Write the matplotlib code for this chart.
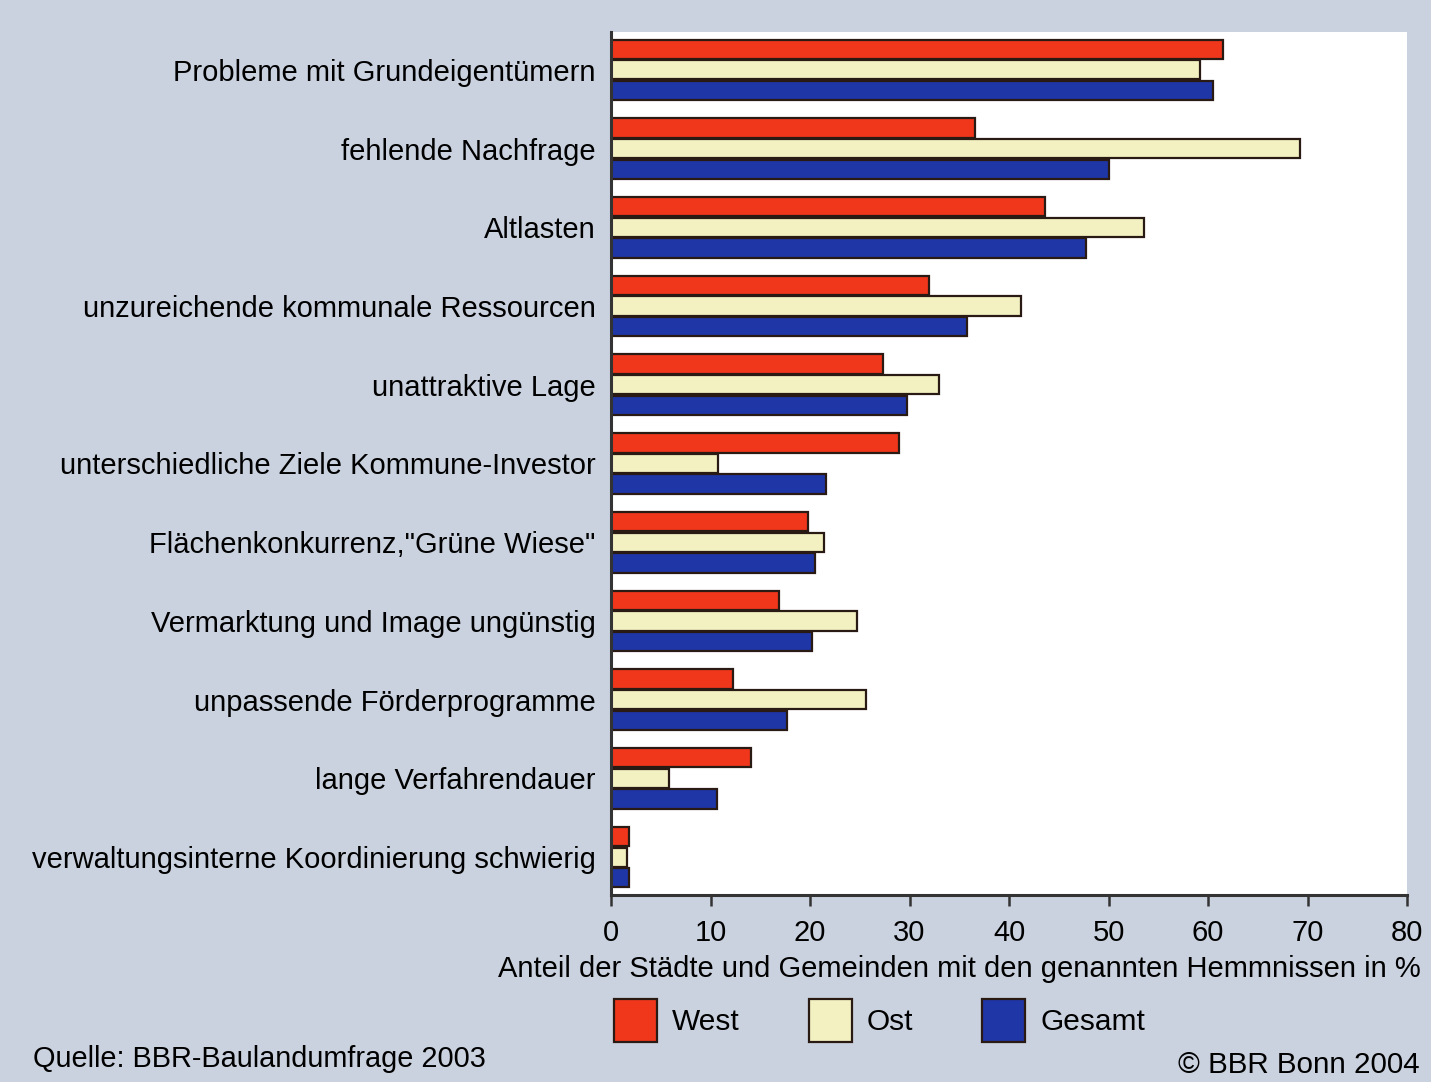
import numpy as np
import matplotlib
matplotlib.use("Agg")
import matplotlib.pyplot as plt
from matplotlib.patches import Patch

plt.rcParams['font.family'] = ['Liberation Sans', 'DejaVu Sans']

categories = [
    "Probleme mit Grundeigentümern",
    "fehlende Nachfrage",
    "Altlasten",
    "unzureichende kommunale Ressourcen",
    "unattraktive Lage",
    "unterschiedliche Ziele Kommune-Investor",
    "Flächenkonkurrenz,\"Grüne Wiese\"",
    "Vermarktung und Image ungünstig",
    "unpassende Förderprogramme",
    "lange Verfahrendauer",
    "verwaltungsinterne Koordinierung schwierig",
]
west = [61.5, 36.6, 43.6, 32.0, 27.3, 28.9, 19.8, 16.9, 12.3, 14.1, 1.8]
ost = [59.2, 69.2, 53.6, 41.2, 33.0, 10.8, 21.4, 24.7, 25.6, 5.8, 1.6]
gesamt = [60.5, 50.0, 47.7, 35.8, 29.7, 21.6, 20.5, 20.2, 17.7, 10.7, 1.8]
series_names = ["West", "Ost", "Gesamt"]
colors = ["#f0371c", "#f3f1c2", "#1f36a6"]
bg = "#cad2df"

fig = plt.figure(figsize=(14.31, 10.82), dpi=100, facecolor=bg)
ax = fig.add_axes([611 / 1431, 1 - 895 / 1082, (1407 - 611) / 1431, (895 - 32) / 1082])
ax.set_facecolor("white")

y = np.arange(len(categories))
h = 0.245
step = 0.262
for i, (vals, c) in enumerate(zip([west, ost, gesamt], colors)):
    ax.barh(y + (i - 1) * step, vals, height=h, color=c,
            edgecolor="#2a1a14", linewidth=1.6)

ax.set_xlim(0, 80)
ax.set_ylim(len(categories) - 1 + 0.48, -0.48)
ax.set_xticks(range(0, 81, 10))
ax.set_yticks(y)
ax.set_yticklabels(categories, fontsize=21)
ax.tick_params(axis="y", length=0, pad=11)
ax.tick_params(axis="x", direction="out", length=8, width=1.8,
               color="#333333", labelsize=21, pad=9)
for s in ["top", "right"]:
    ax.spines[s].set_visible(False)
ax.spines["left"].set_linewidth(2.2)
ax.spines["left"].set_color("#333333")
ax.spines["bottom"].set_linewidth(2.2)
ax.spines["bottom"].set_color("#333333")

fig.text(1421 / 1431, 1 - 969 / 1082,
         "Anteil der Städte und Gemeinden mit den genannten Hemmnissen in %",
         ha="right", va="center", fontsize=21)

handles = [Patch(facecolor=c, edgecolor="#2a1a14", linewidth=1.6) for c in colors]
fig.legend(handles, series_names, loc="upper left",
           bbox_to_anchor=(614 / 1431, 1 - 999 / 1082), ncol=3, frameon=False,
           fontsize=21.5, handlelength=1.45, handleheight=1.85, handletextpad=0.5,
           columnspacing=2.3, borderpad=0, borderaxespad=0)

fig.text(33 / 1431, 1 - 1059 / 1082, "Quelle: BBR-Baulandumfrage 2003",
         ha="left", va="center", fontsize=20.8)
fig.text(1420 / 1431, 1 - 1065 / 1082, "© BBR Bonn 2004",
         ha="right", va="center", fontsize=21.3)

fig.savefig("out.png", dpi=100, facecolor=bg)
